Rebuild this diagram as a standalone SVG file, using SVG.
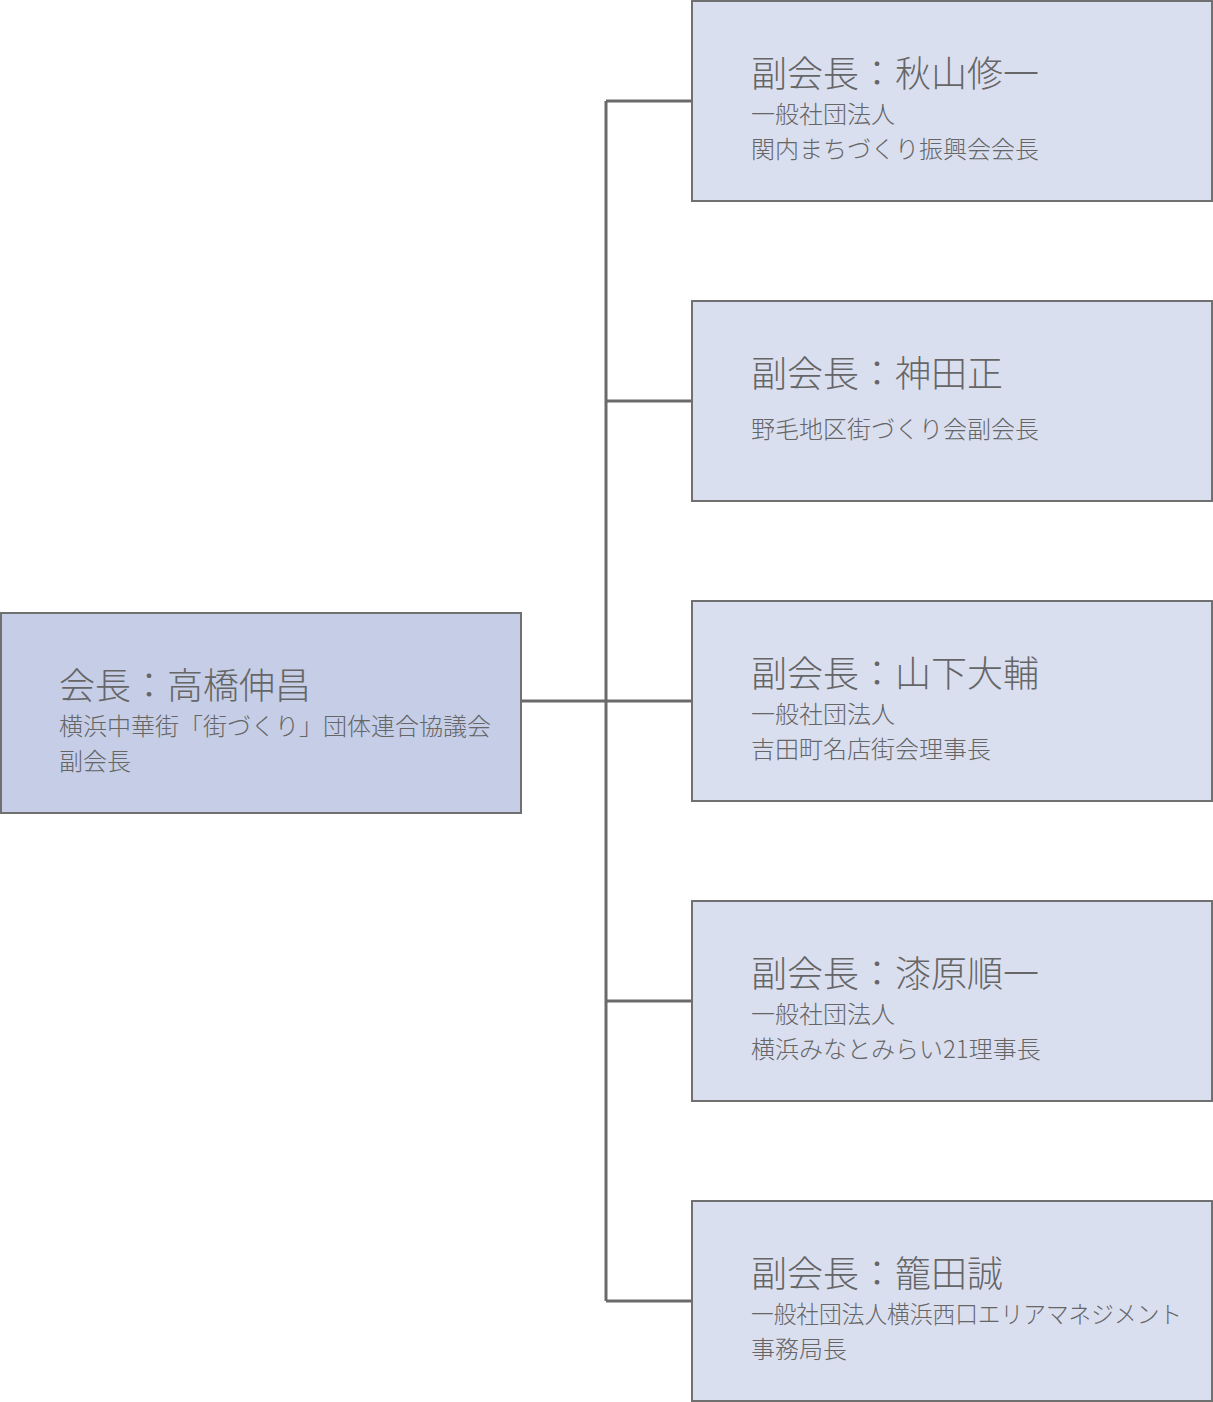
<svg xmlns="http://www.w3.org/2000/svg" width="1213" height="1402" viewBox="0 0 1213 1402">
<style>
.box{stroke:#707070;stroke-width:2}
.main{fill:#c5cee6}
.sub{fill:#dadff0}
.t{font-family:"Noto Sans CJK JP","Noto Sans CJK SC",sans-serif;fill:#666666;font-weight:300}
.h{font-size:36px}
.s{font-size:24px}
.conn{fill:none;stroke:#6a6a6a;stroke-width:3}
</style>
<rect width="1213" height="1402" fill="#ffffff"/>
<g id="connectors">
<path class="conn" d="M521,701 H606 M606,101 V1301 M606,101 H692 M606,401 H692 M606,701 H692 M606,1001 H692 M606,1301 H692"/>
</g>
<g id="chair">
<rect class="box main" x="1" y="613" width="520" height="200"/>
<text class="t h" x="59" y="699">会長：高橋伸昌</text>
<text class="t s" x="59" y="735">横浜中華街「街づくり」団体連合協議会</text>
<text class="t s" x="59" y="770">副会長</text>
</g>
<g id="vice1">
<rect class="box sub" x="692" y="1" width="520" height="200"/>
<text class="t h" x="751" y="87">副会長：秋山修一</text>
<text class="t s" x="751" y="123">一般社団法人</text>
<text class="t s" x="751" y="158">関内まちづくり振興会会長</text>
</g>
<g id="vice2">
<rect class="box sub" x="692" y="301" width="520" height="200"/>
<text class="t h" x="751" y="387">副会長：神田正</text>
<text class="t s" x="751" y="438">野毛地区街づくり会副会長</text>
</g>
<g id="vice3">
<rect class="box sub" x="692" y="601" width="520" height="200"/>
<text class="t h" x="751" y="687">副会長：山下大輔</text>
<text class="t s" x="751" y="723">一般社団法人</text>
<text class="t s" x="751" y="758">吉田町名店街会理事長</text>
</g>
<g id="vice4">
<rect class="box sub" x="692" y="901" width="520" height="200"/>
<text class="t h" x="751" y="987">副会長：漆原順一</text>
<text class="t s" x="751" y="1023">一般社団法人</text>
<text class="t s" x="751" y="1058">横浜みなとみらい21理事長</text>
</g>
<g id="vice5">
<rect class="box sub" x="692" y="1201" width="520" height="200"/>
<text class="t h" x="751" y="1287">副会長：籠田誠</text>
<text class="t s" x="751" y="1323" textLength="431" lengthAdjust="spacingAndGlyphs">一般社団法人横浜西口エリアマネジメント</text>
<text class="t s" x="751" y="1358">事務局長</text>
</g>
</svg>
